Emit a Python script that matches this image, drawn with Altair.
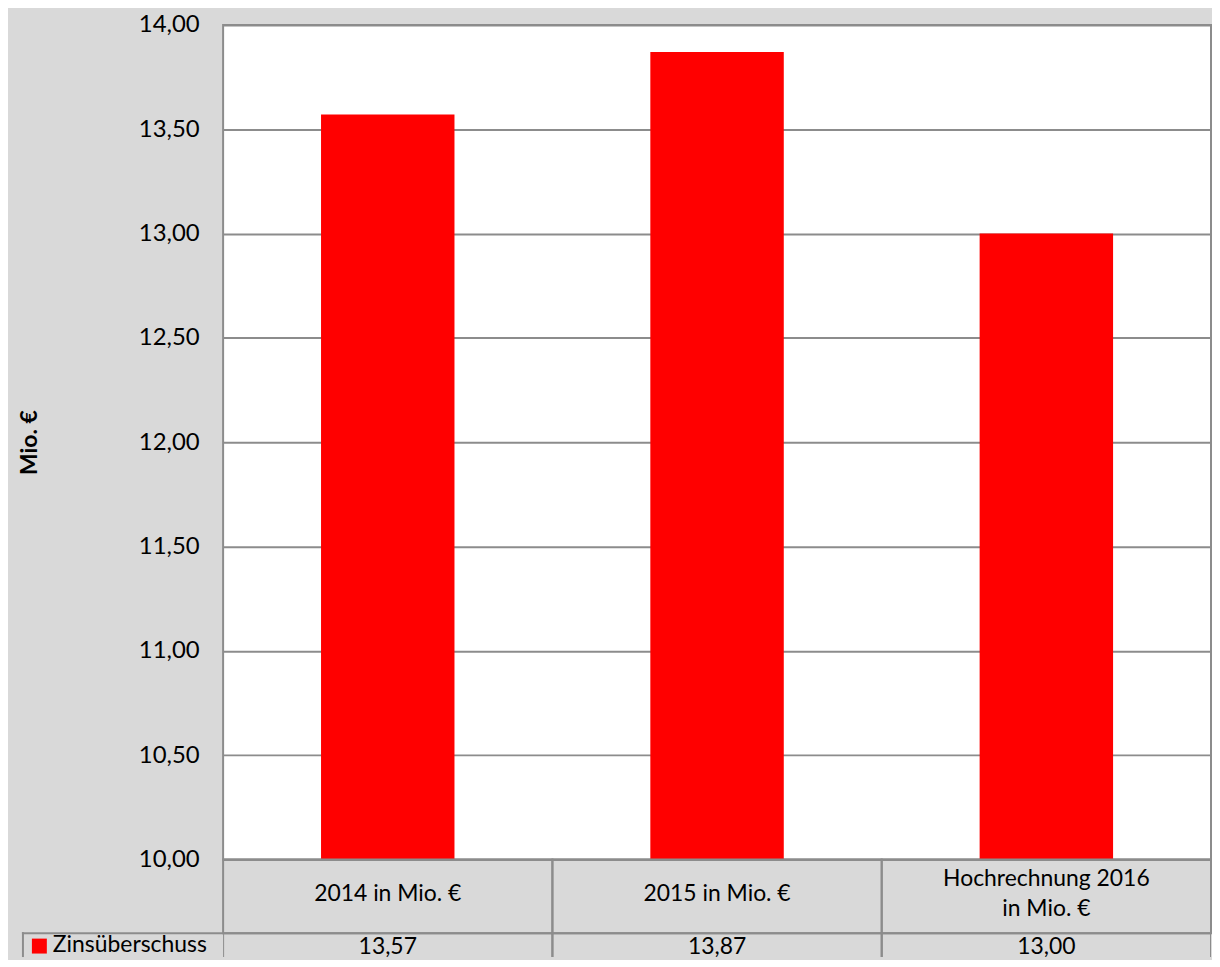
import altair as alt
import pandas as pd

categories = ["2014 in Mio. €", "2015 in Mio. €", "Hochrechnung 2016\nin Mio. €"]
values = [13.57, 13.87, 13.00]
series_name = ["Zinsüberschuss"]
y_ticks = [10.0, 10.5, 11.0, 11.5, 12.0, 12.5, 13.0, 13.5, 14.0]

df = pd.DataFrame({"cat": categories, "value": values})
leg = pd.DataFrame({"series": series_name})

FONT = "Lato"
GRID = "#8c8c8c"
BG = "#d9d9d9"
fmt = "replace(format(datum.value, '.2f'), '.', ',')"
PW = 992
PH = 838
TH = 98
FS = 23

xscale = alt.Scale(domain=categories, paddingInner=0, paddingOuter=0)
xenc = alt.X("cat:N", scale=xscale, axis=None, sort=categories)

bars = alt.Chart(df).mark_bar(color="#ff0000", size=134, clip=True).encode(
    x=xenc,
    y=alt.Y(
        "value:Q",
        scale=alt.Scale(domain=[10, 14], nice=False, zero=False),
        axis=alt.Axis(
            values=y_ticks, labelExpr=fmt, title="Mio. €",
            grid=True, gridColor=GRID, gridWidth=2,
            ticks=False, domain=False,
            labelFont=FONT, labelFontSize=24, labelColor="#000000", labelPadding=24,
            titleFont=FONT, titleFontWeight="bold", titleFontSize=23,
            titleColor="#000000", titleX=-194, titleY=PH / 2,
            titleAlign="center", titleBaseline="middle",
        ),
    ),
    y2=alt.datum(10),
).properties(
    width=PW, height=PH,
    view=alt.ViewBackground(fill="#ffffff", stroke=GRID, strokeWidth=2),
)

base = alt.Chart(df).encode(x=xenc)
head_cells = base.mark_rect(fill="transparent", stroke=GRID, strokeWidth=2).encode(
    y=alt.value(0), y2=alt.value(74)
)
head_text1 = base.transform_filter("indexof(datum.cat, '\\n') < 0").mark_text(
    font=FONT, fontSize=FS, color="#000000", baseline="middle"
).encode(y=alt.value(35), text="cat:N")
head_text2 = base.transform_filter("indexof(datum.cat, '\\n') >= 0").mark_text(
    font=FONT, fontSize=FS, color="#000000", lineBreak="\n", lineHeight=30, baseline="middle"
).encode(y=alt.value(20), text="cat:N")
val_cells = base.mark_rect(fill="transparent", stroke=GRID, strokeWidth=2, clip=True).encode(
    y=alt.value(74), y2=alt.value(TH + 10)
)
val_text = base.transform_calculate(label=fmt).mark_text(
    font=FONT, fontSize=FS, color="#000000", baseline="middle", clip=True
).encode(y=alt.value(88), text="label:N")

legbase = alt.Chart(leg)
leg_left = legbase.mark_rule(color=GRID, strokeWidth=2).encode(
    x=alt.value(-201), y=alt.value(73), y2=alt.value(TH)
)
leg_top = legbase.mark_rule(color=GRID, strokeWidth=2).encode(
    x=alt.value(-202), x2=alt.value(0), y=alt.value(74)
)
leg_sq = legbase.mark_square(color="#ff0000", size=225, opacity=1).encode(
    x=alt.value(-184.5), y=alt.value(87)
)
leg_text = legbase.mark_text(font=FONT, fontSize=FS, color="#000000", align="left",
                             baseline="middle").encode(
    x=alt.value(-171), y=alt.value(86), text="series:N"
)

table = alt.layer(head_cells, head_text1, head_text2, val_cells, val_text,
                  leg_left, leg_top, leg_sq, leg_text).properties(
    width=PW, height=TH,
    view=alt.ViewBackground(fill="transparent", strokeOpacity=0),
)

chart = alt.vconcat(bars, table, spacing=0, bounds="flush").properties(
    background=BG,
    padding={"left": 10, "top": 2, "right": 0, "bottom": 0},
)

chart.save("out.html", embed_options={"renderer": "svg", "actions": False})
